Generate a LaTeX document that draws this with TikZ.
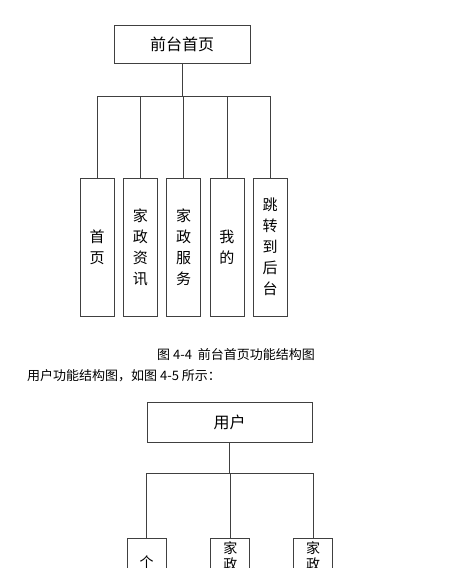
\documentclass[tikz,border=0pt]{standalone}
\usepackage{fontspec}
\newfontfamily\cjk{Noto Sans CJK SC}
\usetikzlibrary{positioning}

\tikzset{
  topbox/.style={draw=black!75, line width=0.8pt, minimum width=136pt, minimum height=38pt, inner sep=0pt, font=\cjk\fontsize{16}{16}\selectfont},
  subbox/.style={draw=black!75, line width=0.8pt, minimum width=34pt, minimum height=138pt, inner sep=0pt, align=center, font=\cjk\fontsize{15}{21}\selectfont},
  leafbox/.style={draw=black!75, line width=0.8pt, anchor=north, minimum width=39pt, minimum height=120pt, inner sep=0pt},
  leaflbl/.style={anchor=north, inner sep=0pt, align=center, font=\cjk\fontsize{14}{16}\selectfont},
  link/.style={black!75, line width=0.8pt},
  captext/.style={inner sep=0pt, font=\cjk\fontsize{13}{13}\selectfont},
}

\begin{document}
\begin{tikzpicture}[x=1pt,y=-1pt]
\useasboundingbox (0,0) rectangle (469,568);
\clip (0,0) rectangle (469,568);
\node[topbox] (home) at (182,44) {前台首页};
\coordinate (bus) at (182,96);
\node[subbox] (c1) at (97,247) {首\\页};
\node[subbox, right=8.5pt of c1] (c2) {家\\政\\资\\讯};
\node[subbox, right=8.5pt of c2] (c3) {家\\政\\服\\务};
\node[subbox, right=8.5pt of c3] (c4) {我\\的};
\node[subbox, right=8.5pt of c4] (c5) {跳\\转\\到\\后\\台};
\draw[link] (home) -- (bus);
\foreach \c in {c1,c2,c3,c4,c5}
  \draw[link] (bus) -| (\c.north);

\node[captext] (fig) at (236,355) {图 4-4\ \ 前台首页功能结构图};
\node[captext, anchor=west] (para) at (27,376) {用户功能结构图，如图 4-5 所示：};

\node[topbox, minimum width=165pt, minimum height=40pt] (user) at (229.5,422) {用户};
\coordinate (bus2) at (229.5,473);
\node[leafbox] (d1) at (146.5,538) {};
\node[leafbox, right=44pt of d1] (d2) {};
\node[leafbox, right=43pt of d2] (d3) {};
\node[leaflbl, below=18pt of d1.north] (t1) {个};
\node[leaflbl, below=3pt of d2.north] (t2) {家\\政};
\node[leaflbl, below=3pt of d3.north] (t3) {家\\政};
\draw[link] (user) -- (bus2);
\foreach \d in {d1,d2,d3}
  \draw[link] (bus2) -| (\d.north);
\end{tikzpicture}
\end{document}
